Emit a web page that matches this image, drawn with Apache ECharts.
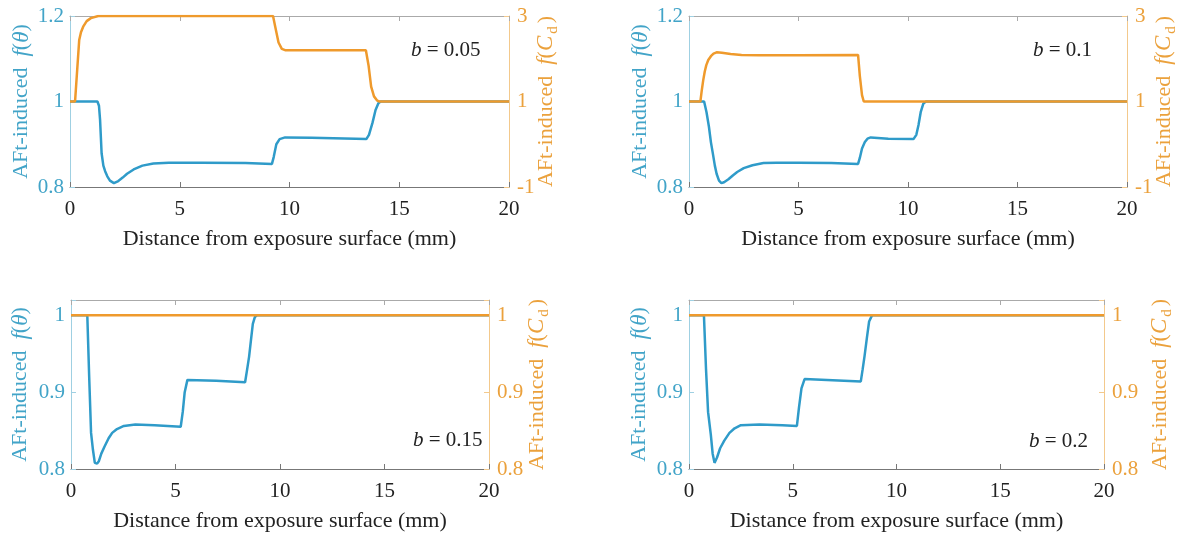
<!DOCTYPE html>
<html>
<head>
<meta charset="utf-8">
<script src="https://cdn.jsdelivr.net/npm/echarts@6/dist/echarts.min.js"></script>
<style>
  html, body { margin: 0; padding: 0; background: #fff; }
  #main { width: 1192px; height: 536px; }
</style>
</head>
<body>
<div id="main"></div>
<script>
// x positions (mm) and values
var xTicks = [0, 5, 10, 15, 20];
var bValues = ['0.05', '0.1', '0.15', '0.2'];

var theta005 = [[0,1],[1.25,1],[1.32,0.99],[1.37,0.957],[1.44,0.879],[1.52,0.85],[1.6,0.837],[1.7,0.825],[1.82,0.815],[2.0,0.809],[2.2,0.814],[2.4,0.822],[2.6,0.831],[2.9,0.841],[3.3,0.85],[3.8,0.855],[4.5,0.857],[6,0.857],[8,0.856],[9.2,0.854],[9.28,0.87],[9.4,0.9],[9.55,0.912],[9.8,0.916],[11,0.915],[13.5,0.912],[13.62,0.922],[13.78,0.95],[13.92,0.98],[14.05,0.996],[14.15,1],[20,1]];
var cd005 = [[0,1],[0.23,1],[0.42,2.44],[0.5,2.62],[0.6,2.75],[0.76,2.88],[0.95,2.95],[1.29,3],[9.25,3],[9.35,2.75],[9.5,2.38],[9.65,2.23],[9.8,2.2],[13.48,2.2],[13.6,1.85],[13.72,1.35],[13.85,1.12],[14.0,1.02],[14.1,1],[20,1]];

var theta01 = [[0,1],[0.69,1],[0.8,0.975],[0.91,0.941],[1.0,0.905],[1.09,0.878],[1.18,0.85],[1.26,0.831],[1.37,0.815],[1.48,0.809],[1.6,0.811],[1.8,0.818],[2.0,0.827],[2.2,0.835],[2.5,0.844],[2.9,0.851],[3.4,0.856],[4,0.857],[5,0.857],[6.5,0.856],[7.72,0.854],[7.8,0.868],[7.9,0.89],[8.03,0.905],[8.15,0.913],[8.3,0.916],[9.1,0.913],[10.25,0.912],[10.38,0.922],[10.48,0.945],[10.58,0.975],[10.7,0.995],[10.82,1],[20,1]];
var cd01 = [[0,1],[0.52,1],[0.58,1.25],[0.65,1.5],[0.72,1.7],[0.79,1.85],[0.88,1.97],[1.0,2.06],[1.12,2.12],[1.26,2.15],[1.5,2.14],[1.9,2.11],[2.4,2.09],[3.2,2.08],[5,2.08],[7.72,2.09],[7.8,1.6],[7.9,1.15],[7.98,1],[20,1]];

var theta015 = [[0,1],[0.78,1],[0.87,0.92],[0.96,0.847],[1.05,0.825],[1.14,0.808],[1.25,0.807],[1.33,0.81],[1.45,0.82],[1.6,0.829],[1.8,0.84],[1.97,0.847],[2.2,0.852],[2.53,0.856],[3.08,0.858],[4.0,0.857],[5.25,0.855],[5.35,0.875],[5.44,0.9],[5.57,0.916],[6.95,0.915],[8.33,0.913],[8.43,0.93],[8.52,0.946],[8.62,0.97],[8.7,0.989],[8.8,0.998],[8.9,1],[20,1]];
var cd015 = [[0,1],[20,1]];

var theta02 = [[0,1],[0.72,1],[0.82,0.93],[0.92,0.874],[1.05,0.845],[1.14,0.82],[1.23,0.808],[1.35,0.815],[1.5,0.827],[1.7,0.837],[1.95,0.847],[2.2,0.853],[2.5,0.857],[3.4,0.858],[4.5,0.857],[5.2,0.856],[5.3,0.88],[5.42,0.905],[5.57,0.917],[6.65,0.916],[8.28,0.914],[8.37,0.93],[8.46,0.947],[8.57,0.97],[8.68,0.992],[8.82,1],[20,1]];
var cd02 = [[0,1],[20,1]];

var FONT = '"Liberation Serif", "Times New Roman", serif';
var BLUE = '#2f9bc9';
var ORANGE = '#ef9a2c';
var BLUE_TXT = '#42a4c8';
var ORANGE_TXT = '#eba13c';

var panels = [
    { theta: theta005, cd: cd005, b: bValues[0], grid: { left: 70, top: 16, width: 439, height: 171 },
      yl: [0.8, 1.2, 0.2], yr: [-1, 3, 2], lgap: 37, rgap: 22, text: [406, 35] },
    { theta: theta01, cd: cd01, b: bValues[1], grid: { left: 689, top: 16, width: 438, height: 171 },
      yl: [0.8, 1.2, 0.2], yr: [-1, 3, 2], lgap: 37, rgap: 22, text: [1028, 35] },
    { theta: theta015, cd: cd015, b: bValues[2], grid: { left: 71, top: 300, width: 418, height: 169 },
      yl: [0.8, 1.02, 0.1], yr: [0.8, 1.02, 0.1], lgap: 39, rgap: 33, text: [408, 425] },
    { theta: theta02, cd: cd02, b: bValues[3], grid: { left: 689, top: 300, width: 415, height: 169 },
      yl: [0.8, 1.02, 0.1], yr: [0.8, 1.02, 0.1], lgap: 38, rgap: 41, text: [1024, 426] }
];

function fmt(v) {
    if (v > 1.001 && v < 1.1) return '';
    return String(+v.toFixed(2));
}

var grids = [], xAxes = [], yAxes = [], series = [], titles = [];

panels.forEach(function (p, i) {
    grids.push(p.grid);
    // bottom x axis
    xAxes.push({
        type: 'value', gridIndex: i, min: xTicks[0], max: xTicks[xTicks.length - 1], interval: 5, position: 'bottom',
        name: 'Distance from exposure surface (mm)', nameLocation: 'middle', nameGap: 41,
        nameTextStyle: { fontFamily: FONT, fontSize: 22, color: '#222' },
        axisLine: { onZero: false, lineStyle: { color: '#777', width: 1 } },
        axisTick: { inside: true, length: 5, lineStyle: { color: '#777' } },
        axisLabel: { fontFamily: FONT, fontSize: 21, color: '#222', margin: 12 },
        splitLine: { show: false }
    });
    // top border with ticks
    xAxes.push({
        type: 'value', gridIndex: i, min: xTicks[0], max: xTicks[xTicks.length - 1], interval: 5, position: 'top',
        axisLine: { onZero: false, lineStyle: { color: '#aaa', width: 1 } },
        axisTick: { inside: true, length: 5, lineStyle: { color: '#aaa' } },
        axisLabel: { show: false },
        splitLine: { show: false }
    });
    yAxes.push({
        type: 'value', gridIndex: i, position: 'left',
        min: p.yl[0], max: p.yl[1], interval: p.yl[2],
        name: 'AFt-induced  {i|f}({i|θ})', nameLocation: 'middle', nameRotate: 90, nameGap: p.lgap,
        nameMoveOverlap: false,
        nameTextStyle: {
            fontFamily: FONT, fontSize: 22, color: BLUE_TXT,
            rich: { i: { fontFamily: FONT, fontStyle: 'italic', fontSize: 23, color: BLUE_TXT } }
        },
        axisLine: { show: true, onZero: false, lineStyle: { color: '#9fd0e2', width: 1 } },
        axisTick: { show: true, inside: true, length: 5, lineStyle: { color: '#9fd0e2' } },
        axisLabel: { fontFamily: FONT, fontSize: 21, color: BLUE_TXT, margin: 6, formatter: fmt },
        splitLine: { show: false }
    });
    yAxes.push({
        type: 'value', gridIndex: i, position: 'right',
        min: p.yr[0], max: p.yr[1], interval: p.yr[2],
        name: 'AFt-induced  {i|f}({i|C}{s|d})', nameLocation: 'middle', nameRotate: 90, nameGap: p.rgap,
        nameMoveOverlap: false,
        nameTextStyle: {
            fontFamily: FONT, fontSize: 22, color: ORANGE_TXT, lineHeight: 30,
            rich: {
                i: { fontFamily: FONT, fontStyle: 'italic', fontSize: 23, color: ORANGE_TXT, lineHeight: 30 },
                s: { fontFamily: FONT, fontSize: 15, color: ORANGE_TXT, verticalAlign: 'bottom', lineHeight: 15, padding: [0, 3, 0, 2] }
            }
        },
        axisLine: { show: true, onZero: false, lineStyle: { color: '#f3c98c', width: 1 } },
        axisTick: { show: true, inside: true, length: 5, lineStyle: { color: '#f3c98c' } },
        axisLabel: { fontFamily: FONT, fontSize: 21, color: ORANGE_TXT, margin: 8, formatter: fmt },
        splitLine: { show: false }
    });
    series.push({
        type: 'line', xAxisIndex: i * 2, yAxisIndex: i * 2, data: p.theta,
        showSymbol: false, symbol: 'none', lineStyle: { color: BLUE, width: 2.5 }, z: 2
    });
    series.push({
        type: 'line', xAxisIndex: i * 2, yAxisIndex: i * 2 + 1, data: p.cd,
        showSymbol: false, symbol: 'none', lineStyle: { color: ORANGE, width: 2.5 }, z: 3
    });
    titles.push({
        text: '{i|b} = ' + p.b, left: p.text[0], top: p.text[1],
        textStyle: {
            fontFamily: FONT, fontSize: 21, fontWeight: 'normal', color: '#222',
            rich: { i: { fontFamily: FONT, fontStyle: 'italic', fontSize: 21, color: '#222' } }
        }
    });
});

var myChart = echarts.init(document.getElementById('main'));
myChart.setOption({
    backgroundColor: '#fff',
    animation: false,
    title: titles,
    grid: grids,
    xAxis: xAxes,
    yAxis: yAxes,
    series: series
});
</script>
</body>
</html>
